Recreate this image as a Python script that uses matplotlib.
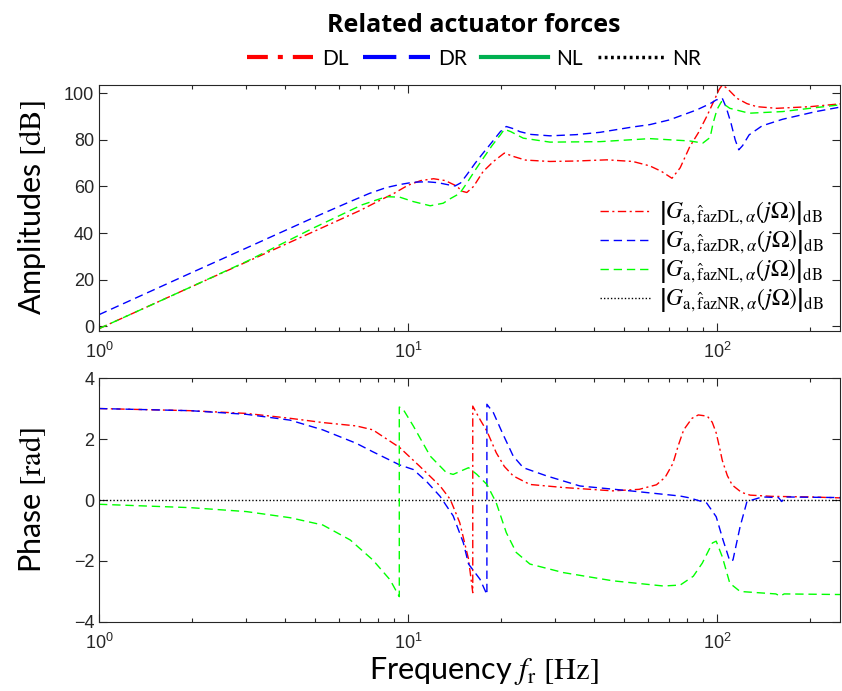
import matplotlib
matplotlib.use("Agg")
import matplotlib.pyplot as plt
from matplotlib.lines import Line2D
from matplotlib.ticker import LogLocator, NullFormatter, MultipleLocator

plt.rcParams["mathtext.fontset"] = "stix"
plt.rcParams["font.family"] = ["Liberation Sans", "DejaVu Sans"]

RED = "#ff0000"
BLUE = "#0000ff"
LIME = "#00ff00"

# ---- amplitude data [dB] ----
amp_dl_f = [1, 2, 3, 5, 7, 8.1, 9.0, 10.0, 11.0, 12.1, 13.2, 14.3, 15.0, 15.5, 16.3, 17.5, 18.9,
            20.5, 22, 24, 28.8, 35, 44, 53.4, 60.6, 66, 71.5, 76, 81.6, 87, 92.6, 98, 101.5,
            104, 108, 116, 125, 134.6, 156, 200, 250]
amp_dl = [-1, 17.1, 27.6, 40.9, 49.7, 54.0, 57.0, 60.5, 62.5, 63.3, 62.5, 60.3, 57.9, 57.4, 60.0,
          66.4, 70.7, 74.3, 72.8, 71.3, 70.7, 70.9, 71.4, 70.7, 68.8, 66.5, 63.5, 68.0, 77.0,
          83.0, 90.0, 97.0, 101.5, 103.5, 102.0, 97.8, 95.5, 94.2, 93.5, 94.2, 95.4]

amp_dr_f = [1, 2, 3, 5, 6.5, 7.5, 8.5, 9.4, 10.4, 11.5, 12.5, 13.5, 14.2, 14.8, 15.5, 16.5, 17.5,
            18.7, 19.9, 20.8, 22, 23, 25, 28.8, 35, 41.8, 53.4, 60.6, 70, 85.9, 95, 99.4, 104,
            107, 111, 114.5, 117.6, 121, 127, 140, 163, 209, 250]
amp_dr = [5, 23.1, 33.6, 46.9, 53.5, 57.0, 59.5, 60.8, 61.8, 62.0, 61.6, 60.7, 60.2, 61.5, 65.0,
          70.0, 74.3, 79.0, 83.5, 85.7, 84.7, 83.5, 82.3, 81.7, 82.2, 83.2, 85.5, 86.5, 88.5,
          92.8, 95.5, 97.1, 97.8, 94.0, 87.1, 80.0, 75.7, 77.5, 82.1, 86.0, 88.8, 92.1, 94.0]

amp_nl_f = [1, 2, 3, 4.93, 7.1, 8.5, 9.4, 10.4, 11.8, 13, 13.6, 14.7, 15.5, 16.5, 17.5, 18.7, 19.9,
            20.5, 21.5, 23.6, 28.8, 41.8, 60.6, 81.6, 90, 95, 97.1, 100, 103.4, 106, 110, 127,
            163, 200, 250]
amp_nl = [-1, 17.1, 27.8, 42.1, 52.1, 55.6, 55.4, 53.5, 51.7, 52.8, 54.5, 57.0, 61.4, 67.0, 72.0,
          77.5, 82.1, 84.5, 83.5, 80.7, 79.0, 79.2, 80.5, 79.5, 78.6, 81.0, 87.1, 93.0, 96.4,
          95.0, 93.5, 91.4, 92.1, 93.5, 95.0]

# ---- phase data [rad] ----
ph_dl_f = [1, 1.97, 3, 4.15, 5.3, 6.8, 7.7, 8.1, 9.4, 10.9, 12.7, 13.7, 14.7, 15.7, 16.2, 16.2,
           17.1, 18, 19.3, 20.5, 21.9, 24.8, 31.8, 46, 56, 63.7, 68, 72, 75, 78, 83, 87, 93,
           96.5, 99.4, 102, 104, 108, 112, 120, 128, 150, 200, 250]
ph_dl = [3.0, 2.93, 2.84, 2.68, 2.54, 2.43, 2.3, 2.15, 1.72, 1.11, 0.46, 0.02, -0.74, -1.94, -3.04,
         3.08, 2.64, 2.26, 1.55, 1.1, 0.79, 0.51, 0.41, 0.3, 0.35, 0.5, 0.75, 1.2, 1.8, 2.3,
         2.68, 2.79, 2.75, 2.55, 2.2, 1.7, 1.3, 0.8, 0.49, 0.25, 0.16, 0.12, 0.1, 0.07]

ph_dr_f = [1, 1.97, 3, 4.15, 5.3, 6.8, 7.7, 9.4, 10.4, 11.5, 12.7, 14, 15.1, 15.7, 17.1, 18, 18,
           18.9, 20.2, 21.9, 23.6, 28.1, 36, 52.4, 76, 81.5, 92.6, 99.4, 104.5, 110, 112.6,
           118.8, 125, 140, 158, 162, 166, 250]
ph_dr = [3.0, 2.93, 2.81, 2.62, 2.3, 1.86, 1.58, 1.15, 1.0, 0.6, 0.12, -0.52, -1.4, -2.1, -2.6,
         -3.1, 3.14, 2.86, 2.2, 1.44, 1.06, 0.79, 0.46, 0.3, 0.13, 0.07, -0.1, -0.55, -1.3,
         -2.0, -1.97, -0.87, -0.05, 0.1, 0.08, -0.05, 0.1, 0.08]

ph_nl_f = [1, 1.97, 3, 4.15, 5.3, 6.5, 7.7, 8.75, 9.37, 9.37, 9.65, 10.4, 11.8, 13.3, 14, 15.7,
           16.7, 18, 19.3, 20.8, 22.4, 24.8, 31.8, 46, 67, 76, 83.8, 89.6, 96.6, 99.4, 104, 110,
           118.8, 155, 160, 165, 250]
ph_nl = [-0.14, -0.25, -0.38, -0.58, -0.82, -1.31, -1.97, -2.62, -3.17, 3.05, 2.97, 2.43, 1.44,
         0.9, 0.84, 1.06, 0.84, 0.51, -0.09, -1.07, -1.72, -2.1, -2.38, -2.65, -2.82, -2.79,
         -2.5, -2.07, -1.41, -1.35, -1.86, -2.73, -3.0, -3.08, -3.15, -3.08, -3.1]

ph_nr_f = [1, 250]
ph_nr = [0, 0]

series = ["DL", "DR", "NL", "NR"]
legend_math = [
    r"$\left|G_{\mathrm{a},\hat{\mathrm{f}}\mathrm{az%s},\alpha}(j\mathit{\Omega})\right|_{\mathrm{dB}}$" % s
    for s in series
]

DASHDOT = (6, 2.5, 1.5, 2.5)
DASH = (6, 3.5)
DOT = (1, 1.5)


def style_axis(ax):
    ax.set_xscale("log")
    ax.set_xlim(1, 250)
    ax.xaxis.set_major_locator(LogLocator(base=10))
    ax.xaxis.set_minor_locator(LogLocator(base=10, subs=range(2, 10)))
    ax.xaxis.set_minor_formatter(NullFormatter())
    ax.tick_params(which="both", direction="in", top=True, right=True, labelsize=13,
                   colors="#262626", width=0.8)
    ax.tick_params(which="major", length=6)
    ax.tick_params(which="minor", length=3)
    ax.tick_params(axis="x", which="major", pad=8)
    for sp in ax.spines.values():
        sp.set_color("#262626")
        sp.set_linewidth(0.8)


fig = plt.figure(figsize=(8.42, 6.91), dpi=100)
ax1 = fig.add_axes([0.1176, 0.521, 0.880, 0.356])
ax2 = fig.add_axes([0.1176, 0.0999, 0.880, 0.353])

# amplitudes
ax1.plot(amp_dl_f, amp_dl, color=RED, lw=1.0, dashes=DASHDOT, label=legend_math[0])
ax1.plot(amp_dr_f, amp_dr, color=BLUE, lw=1.0, dashes=DASH, label=legend_math[1])
ax1.plot(amp_nl_f, amp_nl, color=LIME, lw=1.0, dashes=DASH, label=legend_math[2])
ax1.plot([], [], color="black", lw=1.0, dashes=DOT, label=legend_math[3])  # NR not visible
style_axis(ax1)
ax1.set_ylim(-2, 103.5)
ax1.yaxis.set_major_locator(MultipleLocator(20))
ax1.set_ylabel(r"Amplitudes $[\mathrm{dB}]$", fontsize=22, family="Lato")
ax1.yaxis.set_label_coords(-0.069, 0.5)
ax1.legend(loc="lower right", bbox_to_anchor=(1.0, 0.0), frameon=False, fontsize=17,
           handlelength=2.2, handletextpad=0.3, labelspacing=0.05, borderaxespad=0.3)

# phases
ax2.plot(ph_nr_f, ph_nr, color="black", lw=1.0, dashes=DOT)
ax2.plot(ph_dl_f, ph_dl, color=RED, lw=1.0, dashes=DASHDOT)
ax2.plot(ph_dr_f, ph_dr, color=BLUE, lw=1.0, dashes=DASH)
ax2.plot(ph_nl_f, ph_nl, color=LIME, lw=1.0, dashes=DASH)
style_axis(ax2)
ax2.set_ylim(-4, 4)
ax2.yaxis.set_major_locator(MultipleLocator(2))
ax2.set_ylabel(r"Phase $[\mathrm{rad}]$", fontsize=22, family="Lato")
ax2.yaxis.set_label_coords(-0.069, 0.5)
ax2.set_xlabel(r"Frequency $f_{\mathrm{r}}$ $[\mathrm{Hz}]$", fontsize=22, family="Lato")
ax2.xaxis.set_label_coords(0.52, -0.135)

# figure-level legend for the actuator forces
handles = [
    Line2D([], [], color=RED, lw=3, dashes=(5, 2.4, 1.2, 2.4)),
    Line2D([], [], color=BLUE, lw=3, dashes=(8, 3)),
    Line2D([], [], color="#00b050", lw=3),
    Line2D([], [], color="black", lw=2.5, dashes=(0.8, 1.0)),
]
fig.legend(handles, series, loc="upper center", bbox_to_anchor=(0.563, 1.008), ncol=4,
           frameon=False, title="Related actuator forces",
           title_fontproperties={"family": "Open Sans", "weight": "bold", "size": 18},
           prop={"family": "Lato", "size": 15}, handlelength=3.2, handletextpad=0.4,
           columnspacing=0.7)

fig.savefig("out.png", dpi=100)
